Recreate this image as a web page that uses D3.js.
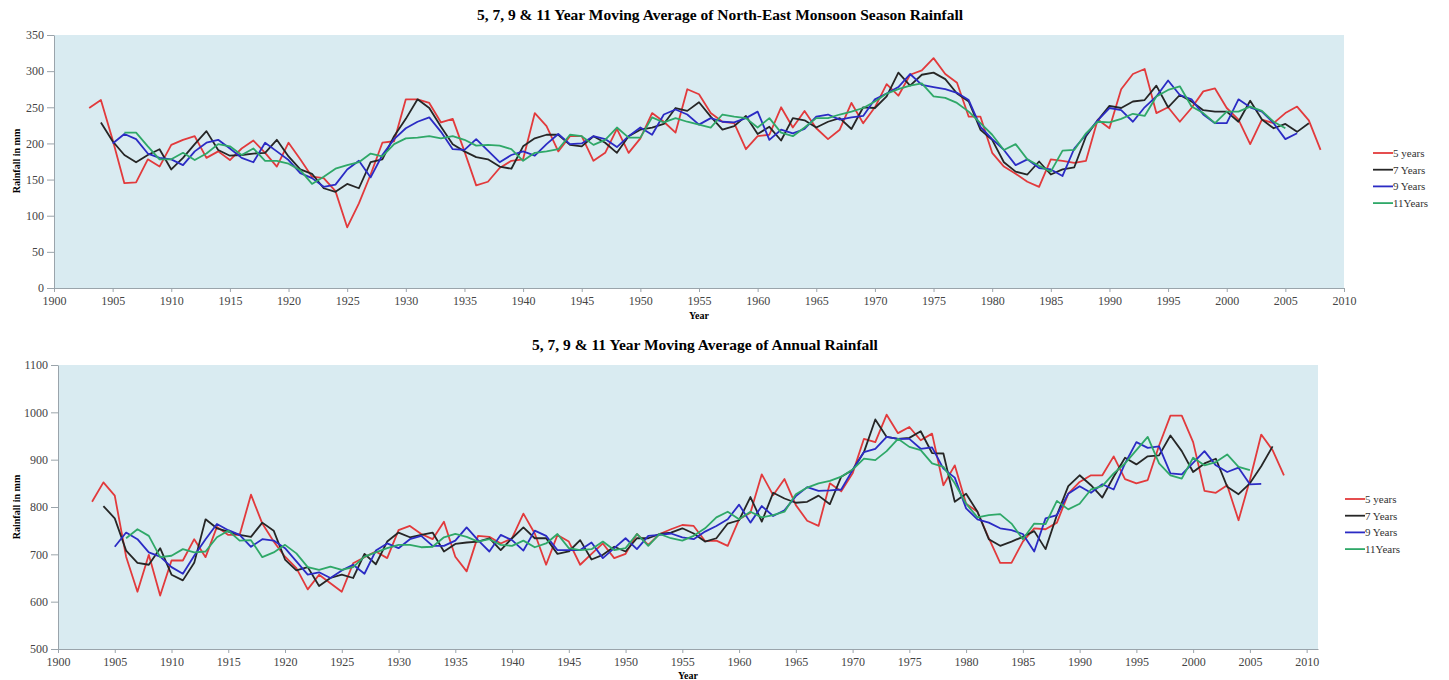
<!DOCTYPE html>
<html lang="en">
<head>
<meta charset="UTF-8">
<title>Moving Average of Rainfall</title>
<script src="https://cdn.jsdelivr.net/npm/d3@7"></script>
<style>
    body { margin: 0; background: #fff; }
    svg text { font-family: "Liberation Serif", "DejaVu Serif", serif; }
    .tick text { fill: #444; font-size: 12px; }
    .domain, .tick line { stroke: #9aa4ab; }
</style>
</head>
<body>
<div id="chart"></div>
<script>
/*------------------- data -------------------*/
// each series starts at its own first year and runs yearly
const seriesNames = ["5 years", "7 Years", "9 Years", "11Years"];
const seriesColors = ["#e23a3c", "#262626", "#2b2bc4", "#2fa868"];
const startYears = [1903, 1904, 1905, 1906];

// North-East Monsoon Season rainfall (mm)
const ne5 = [249,260,205,145,146,178,168,198,205,210,180,189,177,193,204,187,168,201,178,154,152,134,84,117,157,201,203,261,261,256,229,234,189,142,
    147,166,176,178,242,224,189,210,210,176,187,220,187,207,242,230,215,275,268,242,230,228,192,210,212,250,222,245,221,206,219,256,228,250,282,266,295,301,318,
    296,284,237,237,187,168,158,147,140,178,176,173,176,233,221,275,296,303,242,250,230,249,272,276,249,233,199,233,228,242,251,232,191];
const ne7 = [229,203,184,174,184,192,164,180,199,217,191,183,184,186,187,205,182,164,158,138,133,144,138,174,178,210,234,261,249,223,199,189,181,
    178,168,165,196,207,212,212,198,196,210,201,187,210,219,222,227,249,245,257,237,219,224,238,213,223,204,235,232,222,230,235,220,250,249,265,298,280,295,298,
    289,269,258,219,205,174,161,157,175,157,164,167,210,232,252,249,258,260,280,250,267,258,246,244,244,230,259,233,221,227,216,228];
const ne9 = [200,213,206,186,180,178,170,189,201,205,193,180,174,201,189,177,159,152,140,143,164,176,153,184,206,221,230,236,216,192,191,206,
    190,174,184,189,183,199,213,199,200,210,206,195,210,222,212,240,247,240,226,235,230,229,235,244,205,219,214,220,237,240,233,236,238,261,269,278,296,281,278,
    275,270,260,223,206,191,170,178,166,164,155,193,212,232,249,246,230,250,265,287,267,261,240,228,228,261,250,244,228,206,214];
const ne11 = [215,215,196,178,178,187,177,186,199,196,184,193,176,176,172,163,144,154,165,170,174,186,182,199,207,208,210,207,210,205,197,
    198,197,192,176,187,189,192,212,210,198,205,222,208,208,236,229,235,230,226,222,240,237,235,222,235,215,210,222,235,235,240,244,249,258,269,275,280,283,265,
    263,256,244,228,212,191,199,178,169,161,190,191,214,230,229,234,241,238,265,274,279,251,242,228,244,244,251,245,230,221];

// Annual rainfall (mm)
const an5 = [811,852,824,695,621,699,613,687,687,732,694,758,741,741,826,765,727,695,671,626,657,639,621,681,694,706,692,751,760,743,732,769,695,664,
    739,737,723,734,786,744,678,741,727,678,701,723,692,701,743,720,743,753,762,760,728,729,718,774,788,869,825,859,804,771,760,850,833,871,944,937,995,956,969,941,
    955,846,888,807,790,734,682,682,727,755,753,767,828,853,867,867,907,859,850,857,930,993,993,937,834,830,846,772,857,953,920,867];
const an7 = [802,776,708,682,678,713,657,645,682,774,755,748,741,737,767,750,689,666,673,633,650,657,650,701,679,727,746,736,741,746,706,722,725,
    727,734,709,734,757,734,734,701,706,730,689,699,716,706,734,734,743,746,755,744,727,734,765,772,821,769,830,818,809,811,824,806,864,878,916,985,948,944,946,960,
    914,913,811,828,790,732,718,727,737,749,711,783,844,867,846,820,864,904,890,907,909,951,918,874,892,902,843,827,850,886,928];
const an9 = [716,746,732,704,695,673,659,697,732,764,751,741,716,732,729,713,685,657,662,650,666,678,659,708,723,713,732,739,718,718,729,757,
    730,706,741,730,708,750,739,709,709,709,725,692,713,734,711,739,741,744,736,732,748,760,774,805,767,802,781,793,823,842,834,835,837,878,916,923,948,944,944,923,
    926,881,862,797,774,767,755,751,743,706,776,783,828,844,830,848,837,892,937,925,928,871,869,893,918,888,874,883,848,849];
const an11 = [734,753,739,694,697,711,704,706,736,750,729,730,694,704,720,702,673,667,674,667,673,695,704,713,720,720,715,716,736,743,737,
    727,732,720,718,729,715,723,743,713,709,711,727,709,713,743,718,743,734,729,739,755,778,790,774,790,778,783,790,827,841,850,855,864,879,902,899,918,944,927,920,
    892,885,850,807,778,783,785,765,732,765,764,813,795,807,837,844,871,892,920,948,892,867,860,904,888,895,911,885,878];

const yTicksTop = [0, 50, 100, 150, 200, 250, 300, 350];
const yTicksBottom = [500, 600, 700, 800, 900, 1000, 1100];
const xTicks = d3.range(1900, 2011, 5);

const panels = [
    {
        title: "5, 7, 9 & 11 Year Moving Average of North-East Monsoon Season Rainfall",
        series: [ne5, ne7, ne9, ne11],
        yDomain: [0, 350], yTicks: yTicksTop, xDomain: [1900, 2010],
        left: 54, right: 1344, top: 35, bottom: 288,
        titleX: 720, titleY: 20, yLabelY: 161, xLabelX: 699, xLabelY: 319,
        legendX: 1373, legendY: 153
    },
    {
        title: "5, 7, 9 & 11 Year Moving Average of Annual Rainfall",
        series: [an5, an7, an9, an11],
        yDomain: [500, 1100], yTicks: yTicksBottom, xDomain: [1900, 2011],
        left: 58, right: 1318, top: 365, bottom: 649,
        titleX: 705, titleY: 350, yLabelY: 507, xLabelX: 688, xLabelY: 679,
        legendX: 1345, legendY: 499
    }
];

/*------------------- drawing -------------------*/
const svg = d3.select("#chart").append("svg")
    .attr("width", 1449)
    .attr("height", 680);

panels.forEach(p => {
    const x = d3.scaleLinear().domain(p.xDomain).range([p.left, p.right]);
    const y = d3.scaleLinear().domain(p.yDomain).range([p.bottom, p.top]);

    const g = svg.append("g");

    g.append("rect")
        .attr("x", p.left).attr("y", p.top)
        .attr("width", p.right - p.left).attr("height", p.bottom - p.top)
        .attr("fill", "#d9ebf1");

    g.append("g")
        .attr("transform", `translate(0,${p.bottom})`)
        .call(d3.axisBottom(x).tickValues(xTicks).tickFormat(d3.format("d")).tickSizeInner(4).tickSizeOuter(0).tickPadding(4));

    g.append("g")
        .attr("transform", `translate(${p.left},0)`)
        .call(d3.axisLeft(y).tickValues(p.yTicks).tickFormat(d3.format("d")).tickSizeInner(7).tickSizeOuter(0).tickPadding(3));

    const line = d3.line()
        .x(d => x(d.year))
        .y(d => y(d.value));

    p.series.forEach((vals, i) => {
        const pts = vals.map((v, k) => ({ year: startYears[i] + k, value: v }));
        g.append("path")
            .datum(pts)
            .attr("d", line)
            .attr("fill", "none")
            .attr("stroke", seriesColors[i])
            .attr("stroke-width", 1.8)
            .attr("stroke-linejoin", "round");
    });

    // titles
    g.append("text")
        .attr("x", p.titleX).attr("y", p.titleY)
        .attr("text-anchor", "middle")
        .attr("font-size", 15.5).attr("font-weight", "bold")
        .text(p.title);

    g.append("text")
        .attr("transform", `translate(20,${p.yLabelY}) rotate(-90)`)
        .attr("text-anchor", "middle")
        .attr("font-size", 10).attr("font-weight", "bold")
        .text("Rainfall in mm");

    g.append("text")
        .attr("x", p.xLabelX).attr("y", p.xLabelY)
        .attr("text-anchor", "middle")
        .attr("font-size", 10).attr("font-weight", "bold")
        .text("Year");

    // legend
    const lg = g.append("g").attr("transform", `translate(${p.legendX},${p.legendY})`);
    seriesNames.forEach((name, i) => {
        lg.append("line")
            .attr("x1", 0).attr("x2", 20)
            .attr("y1", i * 16.7).attr("y2", i * 16.7)
            .attr("stroke", seriesColors[i]).attr("stroke-width", 1.8);
        lg.append("text")
            .attr("x", 20).attr("y", i * 16.7 + 4)
            .attr("font-size", 11).attr("fill", "#333")
            .text(name);
    });
});
</script>
</body>
</html>
